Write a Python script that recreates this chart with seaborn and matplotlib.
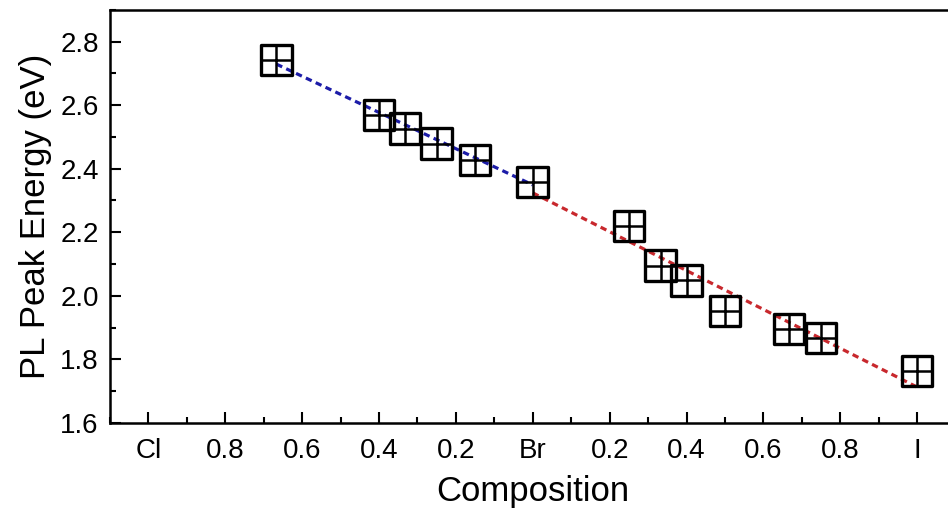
import numpy as np
import pandas as pd
import seaborn as sns
import matplotlib.pyplot as plt
from matplotlib.ticker import MultipleLocator

sns.set_theme(style="white")
plt.rcParams['font.family'] = ['Liberation Sans', 'DejaVu Sans']
plt.rcParams['text.color'] = 'black'
plt.rcParams['axes.labelcolor'] = 'black'
plt.rcParams['xtick.color'] = 'black'
plt.rcParams['ytick.color'] = 'black'

# composition axis: Cl = 0, Br = 1, I = 2
composition = [0.333, 0.60, 0.667, 0.75, 0.85, 1.0,
               1.25, 1.333, 1.40, 1.50, 1.667, 1.75, 2.0]
pl_energy = [2.742, 2.569, 2.526, 2.479, 2.428, 2.358,
             2.220, 2.095, 2.049, 1.952, 1.896, 1.868, 1.764]

# linear fit lines (Cl-Br and Br-I)
fit_clbr_x = [0.333, 1.0]
fit_clbr_y = [2.729, 2.349]
fit_bri_x = [1.0, 2.0]
fit_bri_y = [2.324, 1.713]

tick_pos = [0, 0.2, 0.4, 0.6, 0.8, 1.0, 1.2, 1.4, 1.6, 1.8, 2.0]
tick_labels = ['Cl', '0.8', '0.6', '0.4', '0.2', 'Br', '0.2', '0.4', '0.6', '0.8', 'I']

df = pd.DataFrame({'x': composition, 'y': pl_energy})

fig = plt.figure(figsize=(9.48, 5.14), dpi=100)
ax = fig.add_axes([0.116, 0.177, 0.892, 0.804])

dash = (0, (2.0, 1.4))
sns.lineplot(x=fit_clbr_x, y=fit_clbr_y, ax=ax, color='#1c1ca8', lw=2.3,
             linestyle=dash, zorder=2)
sns.lineplot(x=fit_bri_x, y=fit_bri_y, ax=ax, color='#c8282d', lw=2.3,
             linestyle=dash, zorder=2)

sns.scatterplot(data=df, x='x', y='y', ax=ax, marker='s', s=22**2,
                facecolor='none', edgecolor='black', linewidth=2.4, zorder=3)
sns.scatterplot(data=df, x='x', y='y', ax=ax, marker='+', s=21**2,
                color='black', linewidth=1.8, zorder=3)

ax.set_xlim(-0.1, 2.1)
ax.set_ylim(1.6, 2.9)
ax.set_xticks(tick_pos)
ax.set_xticklabels(tick_labels)
ax.set_yticks([1.6, 1.8, 2.0, 2.2, 2.4, 2.6, 2.8])
ax.xaxis.set_minor_locator(MultipleLocator(0.1))
ax.yaxis.set_minor_locator(MultipleLocator(0.1))
ax.tick_params(axis='x', which='major', pad=11)
ax.tick_params(axis='y', which='major', pad=8)
ax.tick_params(which='major', direction='in', length=8, width=1.5,
               labelsize=20, color='black', bottom=True, left=True)
ax.tick_params(which='minor', direction='in', length=4, width=1.5,
               color='black', bottom=True, left=True)

for side in ['left', 'bottom', 'top']:
    ax.spines[side].set_color('black')
    ax.spines[side].set_linewidth(1.8)
ax.spines['right'].set_visible(False)

ax.set_xlabel('Composition', fontsize=25, labelpad=8)
ax.set_ylabel('PL Peak Energy (eV)', fontsize=25, labelpad=6)

fig.savefig('out.png', dpi=100)
